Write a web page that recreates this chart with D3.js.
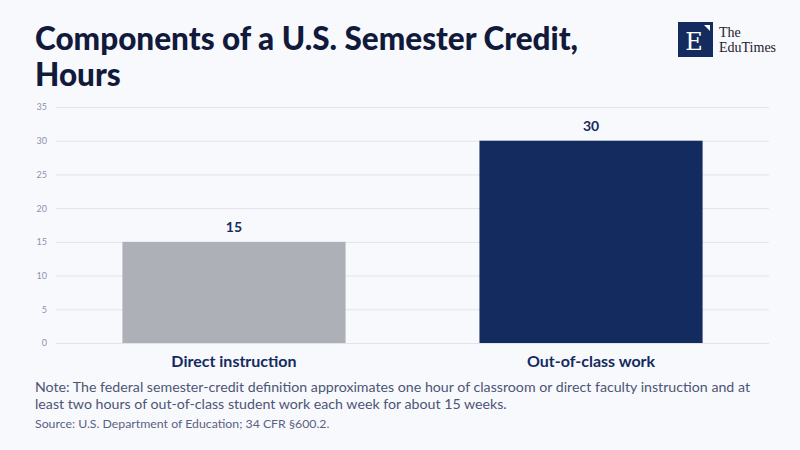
<!DOCTYPE html>
<html>
<head>
<meta charset="utf-8">
<script src="https://cdn.jsdelivr.net/npm/d3@7"></script>
<style>
  body { margin: 0; background: #f8f9fd; }
  svg { display: block; }
</style>
</head>
<body>
<div id="chart"></div>
<script>
var categories = ["Direct instruction", "Out-of-class work"];
var hours = [15, 30];
var barColors = ["#aeb0b8", "#142b5f"];
var yTicks = [0, 5, 10, 15, 20, 25, 30, 35];

var svgWidth = 800;
var svgHeight = 450;
var font = "Lato, 'Noto Sans', sans-serif";

var margin = { top: 107, right: 31, bottom: 107, left: 56 };
var width = svgWidth - margin.left - margin.right;
var height = svgHeight - margin.top - margin.bottom;

var svg = d3.select("#chart")
    .append("svg")
    .attr("width", svgWidth)
    .attr("height", svgHeight);

svg.append("rect")
    .attr("width", svgWidth)
    .attr("height", svgHeight)
    .attr("fill", "#f8f9fd");

// title
var title = svg.append("text")
    .attr("x", 35)
    .attr("y", 50)
    .attr("fill", "#111a3b")
    .style("font-family", font)
    .style("font-weight", "900")
    .style("font-size", "31.5px");
title.append("tspan").attr("x", 35).text("Components of a U.S. Semester Credit,");
title.append("tspan").attr("x", 35).attr("dy", 36).text("Hours");

// logo
var logo = svg.append("g").attr("transform", "translate(678, 22)");
logo.append("rect").attr("width", 35).attr("height", 35).attr("fill", "#142b5f");
logo.append("path").attr("d", "M26,3 L32,3 L32,9 Z").attr("fill", "#ffffff");
logo.append("text")
    .attr("x", 16).attr("y", 28)
    .attr("text-anchor", "middle")
    .attr("fill", "#ffffff")
    .style("font-family", "'DejaVu Serif', 'Liberation Serif', serif")
    .style("font-size", "24px")
    .text("E");
logo.append("text")
    .attr("x", 41).attr("y", 15)
    .attr("fill", "#1b1b2b")
    .style("font-family", "'Liberation Serif', serif")
    .style("font-size", "14px")
    .text("The");
logo.append("text")
    .attr("x", 41).attr("y", 30)
    .attr("fill", "#1b1b2b")
    .style("font-family", "'Liberation Serif', serif")
    .style("font-size", "14px")
    .text("EduTimes");

var chartGroup = svg.append("g")
    .attr("transform", `translate(${margin.left}, ${margin.top})`);

var xBandScale = d3.scaleBand()
    .domain(categories)
    .range([0, width])
    .paddingInner(0.375)
    .paddingOuter(0.186);

var yLinearScale = d3.scaleLinear()
    .domain([0, 35])
    .range([height, 0]);

// grid + left tick labels
var leftAxis = d3.axisLeft(yLinearScale)
    .tickValues(yTicks)
    .tickSize(-width)
    .tickPadding(9);

var yAxis = chartGroup.append("g").call(leftAxis);
yAxis.select(".domain").remove();
yAxis.selectAll(".tick line").attr("stroke", "#e1e3ea").attr("stroke-width", 1);
yAxis.selectAll(".tick text")
    .attr("fill", "#8c93ad")
    .style("font-family", font)
    .style("font-size", "9px");

chartGroup.selectAll(".bar")
    .data(hours)
    .enter()
    .append("rect")
    .attr("class", "bar")
    .attr("x", (d, i) => xBandScale(categories[i]))
    .attr("y", d => yLinearScale(d))
    .attr("width", xBandScale.bandwidth())
    .attr("height", d => height - yLinearScale(d))
    .attr("fill", (d, i) => barColors[i]);

chartGroup.selectAll(".value")
    .data(hours)
    .enter()
    .append("text")
    .attr("class", "value")
    .attr("x", (d, i) => xBandScale(categories[i]) + xBandScale.bandwidth() / 2)
    .attr("y", d => yLinearScale(d) - 10)
    .attr("text-anchor", "middle")
    .attr("fill", "#142b5f")
    .style("font-family", font)
    .style("font-weight", "bold")
    .style("font-size", "14px")
    .text(d => d);

var bottomAxis = d3.axisBottom(xBandScale).tickSize(0).tickPadding(13);
var xAxis = chartGroup.append("g")
    .attr("transform", `translate(0, ${height})`)
    .call(bottomAxis);
xAxis.select(".domain").remove();
xAxis.selectAll(".tick text")
    .attr("fill", "#142b5f")
    .style("font-family", font)
    .style("font-weight", "bold")
    .style("font-size", "16px");

// footer
var note = svg.append("text")
    .attr("x", 35)
    .attr("y", 392)
    .attr("fill", "#4d5575")
    .style("font-family", font)
    .style("font-size", "14.2px");
note.append("tspan").attr("x", 35)
    .text("Note: The federal semester-credit definition approximates one hour of classroom or direct faculty instruction and at");
note.append("tspan").attr("x", 35).attr("dy", 17)
    .text("least two hours of out-of-class student work each week for about 15 weeks.");

svg.append("text")
    .attr("x", 35)
    .attr("y", 428)
    .attr("fill", "#5a6282")
    .style("font-family", font)
    .style("font-size", "12.3px")
    .text("Source: U.S. Department of Education; 34 CFR §600.2.");
</script>
</body>
</html>
